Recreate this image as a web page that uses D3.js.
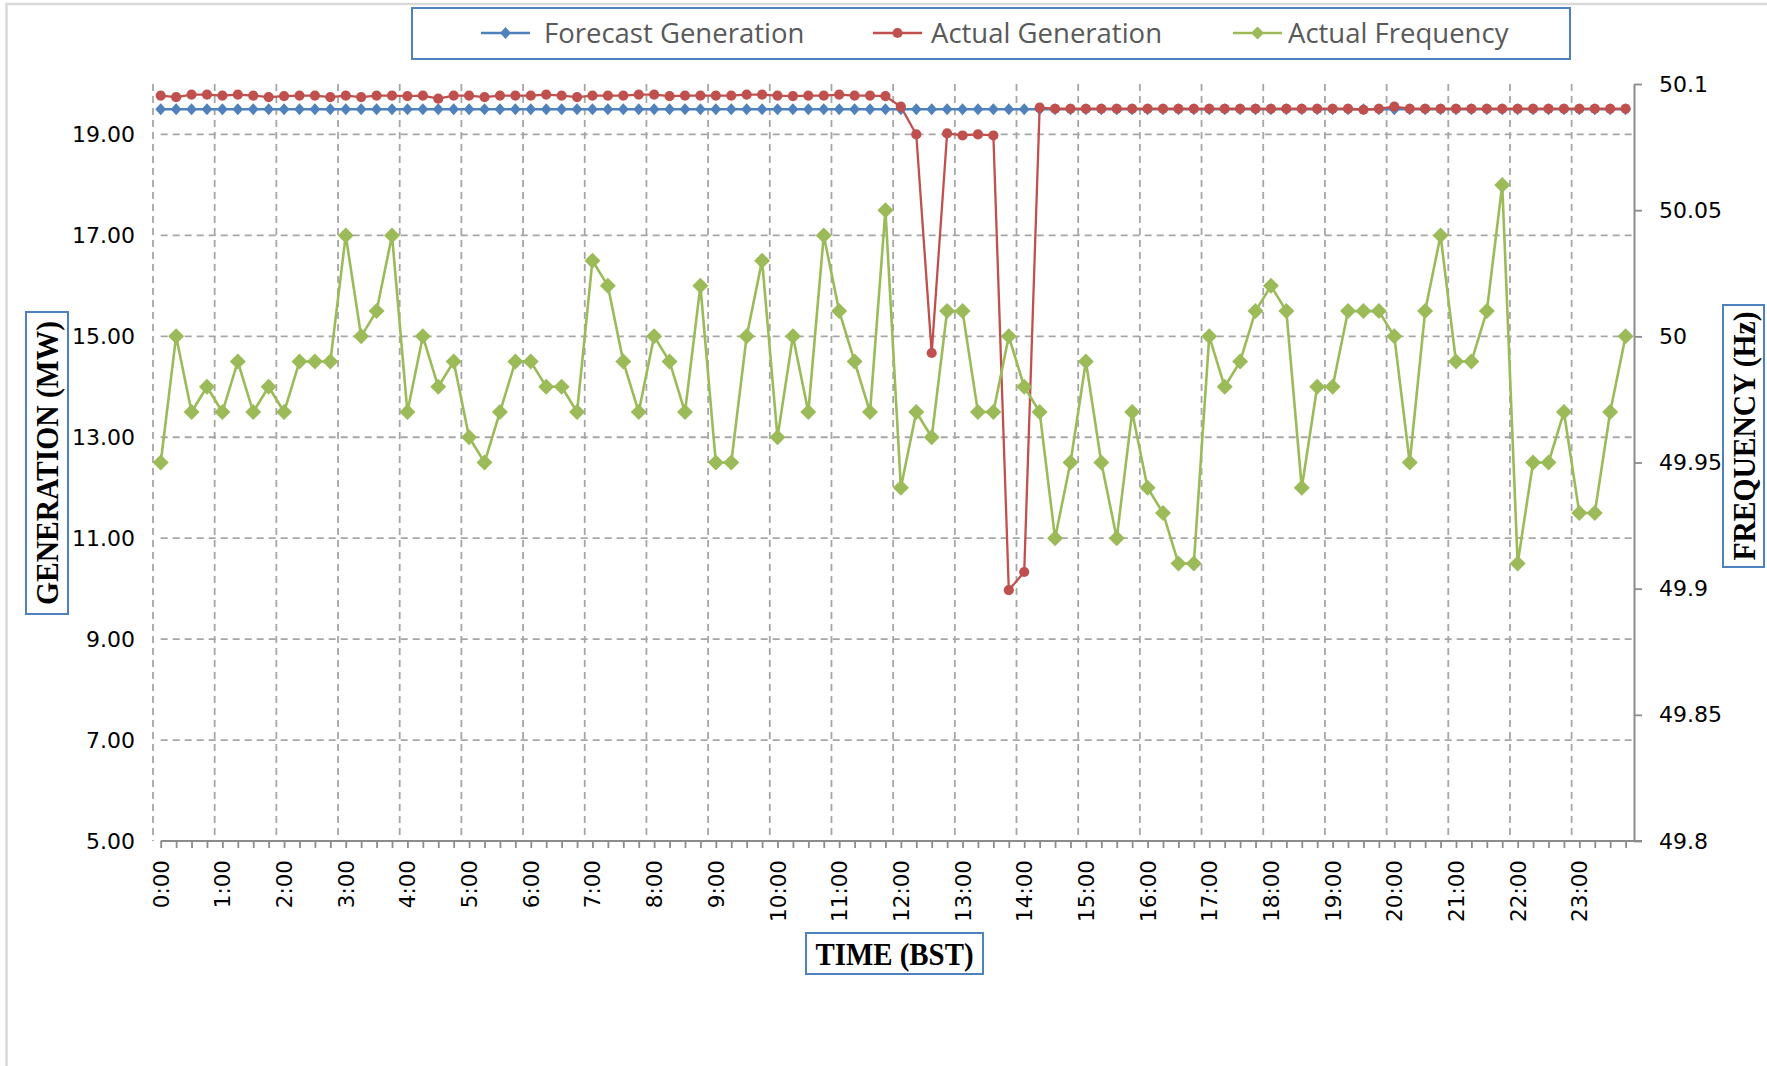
<!DOCTYPE html>
<html>
<head>
<meta charset="utf-8">
<script src="https://cdn.jsdelivr.net/npm/d3@7"></script>
<style>
  body { margin: 0; background: #fff; }
  svg { display: block; }
</style>
</head>
<body>
<script>
// 15-minute slots over the day
var times = [
  '0:00', '0:15', '0:30', '0:45', '1:00', '1:15', '1:30', '1:45',
  '2:00', '2:15', '2:30', '2:45', '3:00', '3:15', '3:30', '3:45',
  '4:00', '4:15', '4:30', '4:45', '5:00', '5:15', '5:30', '5:45',
  '6:00', '6:15', '6:30', '6:45', '7:00', '7:15', '7:30', '7:45',
  '8:00', '8:15', '8:30', '8:45', '9:00', '9:15', '9:30', '9:45',
  '10:00', '10:15', '10:30', '10:45', '11:00', '11:15', '11:30', '11:45',
  '12:00', '12:15', '12:30', '12:45', '13:00', '13:15', '13:30', '13:45',
  '14:00', '14:15', '14:30', '14:45', '15:00', '15:15', '15:30', '15:45',
  '16:00', '16:15', '16:30', '16:45', '17:00', '17:15', '17:30', '17:45',
  '18:00', '18:15', '18:30', '18:45', '19:00', '19:15', '19:30', '19:45',
  '20:00', '20:15', '20:30', '20:45', '21:00', '21:15', '21:30', '21:45',
  '22:00', '22:15', '22:30', '22:45', '23:00', '23:15', '23:30', '23:45'
]

var hourLabels = ['0:00', '1:00', '2:00', '3:00', '4:00', '5:00', '6:00', '7:00',
  '8:00', '9:00', '10:00', '11:00', '12:00', '13:00', '14:00', '15:00',
  '16:00', '17:00', '18:00', '19:00', '20:00', '21:00', '22:00', '23:00']

var genTicks = [5, 7, 9, 11, 13, 15, 17, 19]
var freqTicks = [49.8, 49.85, 49.9, 49.95, 50, 50.05, 50.1]

var forecastGen = [
  19.5, 19.5, 19.5, 19.5, 19.5, 19.5, 19.5, 19.5,
  19.5, 19.5, 19.5, 19.5, 19.5, 19.5, 19.5, 19.5,
  19.5, 19.5, 19.5, 19.5, 19.5, 19.5, 19.5, 19.5,
  19.5, 19.5, 19.5, 19.5, 19.5, 19.5, 19.5, 19.5,
  19.5, 19.5, 19.5, 19.5, 19.5, 19.5, 19.5, 19.5,
  19.5, 19.5, 19.5, 19.5, 19.5, 19.5, 19.5, 19.5,
  19.5, 19.5, 19.5, 19.5, 19.5, 19.5, 19.5, 19.5,
  19.5, 19.5, 19.5, 19.5, 19.5, 19.5, 19.5, 19.5,
  19.5, 19.5, 19.5, 19.5, 19.5, 19.5, 19.5, 19.5,
  19.5, 19.5, 19.5, 19.5, 19.5, 19.5, 19.5, 19.5,
  19.5, 19.5, 19.5, 19.5, 19.5, 19.5, 19.5, 19.5,
  19.5, 19.5, 19.5, 19.5, 19.5, 19.5, 19.5, 19.5
]

var actualGen = [
  19.77, 19.74, 19.79, 19.79, 19.77, 19.79, 19.77, 19.74,
  19.76, 19.77, 19.77, 19.74, 19.77, 19.74, 19.77, 19.77,
  19.76, 19.77, 19.71, 19.77, 19.77, 19.74, 19.77, 19.77,
  19.77, 19.79, 19.77, 19.74, 19.77, 19.77, 19.77, 19.79,
  19.79, 19.76, 19.77, 19.77, 19.77, 19.77, 19.79, 19.79,
  19.77, 19.76, 19.77, 19.77, 19.79, 19.77, 19.77, 19.76,
  19.55, 19.0, 14.67, 19.02, 18.98, 19.0, 18.98, 9.97,
  10.33, 19.53, 19.51, 19.51, 19.51, 19.51, 19.51, 19.51,
  19.51, 19.51, 19.51, 19.51, 19.51, 19.51, 19.51, 19.51,
  19.51, 19.51, 19.51, 19.51, 19.51, 19.51, 19.49, 19.51,
  19.55, 19.51, 19.51, 19.51, 19.51, 19.51, 19.51, 19.51,
  19.51, 19.51, 19.51, 19.51, 19.51, 19.51, 19.51, 19.51
]

var actualFreq = [
  49.95, 50.00, 49.97, 49.98, 49.97, 49.99, 49.97, 49.98,
  49.97, 49.99, 49.99, 49.99, 50.04, 50.00, 50.01, 50.04,
  49.97, 50.00, 49.98, 49.99, 49.96, 49.95, 49.97, 49.99,
  49.99, 49.98, 49.98, 49.97, 50.03, 50.02, 49.99, 49.97,
  50.00, 49.99, 49.97, 50.02, 49.95, 49.95, 50.00, 50.03,
  49.96, 50.00, 49.97, 50.04, 50.01, 49.99, 49.97, 50.05,
  49.94, 49.97, 49.96, 50.01, 50.01, 49.97, 49.97, 50.00,
  49.98, 49.97, 49.92, 49.95, 49.99, 49.95, 49.92, 49.97,
  49.94, 49.93, 49.91, 49.91, 50.00, 49.98, 49.99, 50.01,
  50.02, 50.01, 49.94, 49.98, 49.98, 50.01, 50.01, 50.01,
  50.00, 49.95, 50.01, 50.04, 49.99, 49.99, 50.01, 50.06,
  49.91, 49.95, 49.95, 49.97, 49.93, 49.93, 49.97, 50.00
]

var W = 1767, H = 1066
var plotRight = 1634, plotTop = 84, plotBottom = 841

var svg = d3.select('body').append('svg')
  .attr('width', W)
  .attr('height', H)

// chart area border (only top & left visible)
svg.append('rect')
  .attr('x', 6.5).attr('y', 4)
  .attr('width', W + 20).attr('height', H + 20)
  .attr('fill', 'none')
  .attr('stroke', '#d9d9d9')
  .attr('stroke-width', 2.5)

var x = d3.scalePoint()
  .domain(times)
  .range([160.7, 1625.6])

var half = x.step() / 2

var yGen = d3.scaleLinear()
  .domain([5, 20])
  .range([plotBottom, plotTop])

var yFreq = d3.scaleLinear()
  .domain([49.8, 50.1])
  .range([plotBottom, plotTop])

var tickFont = "'DejaVu Sans', Verdana, sans-serif"
var legendFont = "'Open Sans', 'Noto Sans', sans-serif"
var gridColor = '#a6a6a6'
var axisColor = '#8c8c8c'

// horizontal gridlines
svg.append('g')
  .selectAll('line')
  .data(genTicks.filter(function (d) { return d > 5 }))
  .join('line')
  .attr('x1', 160.7).attr('x2', plotRight)
  .attr('y1', function (d) { return yGen(d) })
  .attr('y2', function (d) { return yGen(d) })
  .attr('stroke', gridColor)
  .attr('stroke-width', 1.8)
  .attr('stroke-dasharray', '7,5')

// vertical gridlines, one per hour at the category edge
svg.append('g')
  .selectAll('line')
  .data(hourLabels)
  .join('line')
  .attr('x1', function (d) { return x(d) - half })
  .attr('x2', function (d) { return x(d) - half })
  .attr('y1', plotTop).attr('y2', plotBottom)
  .attr('stroke', gridColor)
  .attr('stroke-width', 1.8)
  .attr('stroke-dasharray', '7,5')

// x axis
var xAxis = d3.axisBottom(x)
  .tickSize(7)
  .tickFormat('')

var gx = svg.append('g')
  .attr('transform', 'translate(0,' + plotBottom + ')')
  .call(xAxis)
gx.select('.domain').remove()
gx.selectAll('.tick line').attr('stroke', axisColor).attr('stroke-width', 1.8)
gx.append('line')
  .attr('x1', 160.7).attr('x2', plotRight + 8)
  .attr('stroke', axisColor).attr('stroke-width', 2)

svg.append('g')
  .selectAll('text')
  .data(hourLabels)
  .join('text')
  .attr('transform', function (d) { return 'translate(' + (x(d) + 8) + ',' + (plotBottom + 19) + ') rotate(-90)' })
  .attr('text-anchor', 'end')
  .style('font-family', tickFont)
  .style('font-size', '21.5px')
  .attr('fill', '#000')
  .text(function (d) { return d })

// left axis (labels only)
var yAxisL = d3.axisLeft(yGen)
  .tickValues(genTicks)
  .tickSize(0)
  .tickPadding(0)
  .tickFormat(d3.format('.2f'))

var gl = svg.append('g')
  .attr('transform', 'translate(135,0)')
  .call(yAxisL)
gl.select('.domain').remove()
gl.selectAll('text')
  .style('font-family', tickFont)
  .style('font-size', '22px')
  .attr('fill', '#000')

// right axis
var yAxisR = d3.axisRight(yFreq)
  .tickValues(freqTicks)
  .tickSize(8)
  .tickPadding(17)
  .tickSizeOuter(0)
  .tickFormat(function (d) { return String(+d.toFixed(2)) })

var gr = svg.append('g')
  .attr('transform', 'translate(' + plotRight + ',0)')
  .call(yAxisR)
gr.select('.domain').attr('stroke', axisColor).attr('stroke-width', 2)
gr.selectAll('.tick line').attr('stroke', axisColor).attr('stroke-width', 1.8)
gr.selectAll('text')
  .style('font-family', tickFont)
  .style('font-size', '22px')
  .attr('fill', '#000')

// series
function diamond (w, h) {
  return 'M0,' + (-h) + 'L' + w + ',0L0,' + h + 'L' + (-w) + ',0Z'
}

var series = [
  { name: 'Forecast Generation', values: forecastGen, y: yGen, color: '#4f81bd', width: 2.3, marker: 'diamond', w: 5.4, h: 6 },
  { name: 'Actual Generation', values: actualGen, y: yGen, color: '#c0504d', width: 2.3, marker: 'circle', r: 5.1 },
  { name: 'Actual Frequency', values: actualFreq, y: yFreq, color: '#9bbb59', width: 2.6, marker: 'diamond', w: 8, h: 8 }
]

series.forEach(function (s) {
  var line = d3.line()
    .x(function (d, i) { return x(times[i]) })
    .y(function (d) { return s.y(d) })

  var g = svg.append('g')
  g.append('path')
    .datum(s.values)
    .attr('d', line)
    .attr('fill', 'none')
    .attr('stroke', s.color)
    .attr('stroke-width', s.width)
    .attr('stroke-linejoin', 'round')

  if (s.marker === 'circle') {
    g.selectAll('circle')
      .data(s.values)
      .join('circle')
      .attr('cx', function (d, i) { return x(times[i]) })
      .attr('cy', function (d) { return s.y(d) })
      .attr('r', s.r)
      .attr('fill', s.color)
  } else {
    g.selectAll('path.mk')
      .data(s.values)
      .join('path')
      .attr('class', 'mk')
      .attr('transform', function (d, i) { return 'translate(' + x(times[i]) + ',' + s.y(d) + ')' })
      .attr('d', diamond(s.w, s.h))
      .attr('fill', s.color)
  }
})

// legend
var legend = svg.append('g')
legend.append('rect')
  .attr('x', 412).attr('y', 8)
  .attr('width', 1158).attr('height', 51)
  .attr('fill', '#fff')
  .attr('stroke', '#4f81bd')
  .attr('stroke-width', 2)

var legendPos = [
  { x: 481, tx: 544 },
  { x: 873, tx: 931 },
  { x: 1233, tx: 1288 }
]

series.forEach(function (s, i) {
  var p = legendPos[i]
  var cy = 33
  legend.append('line')
    .attr('x1', p.x).attr('x2', p.x + 49)
    .attr('y1', cy).attr('y2', cy)
    .attr('stroke', s.color)
    .attr('stroke-width', s.width)
  if (s.marker === 'circle') {
    legend.append('circle')
      .attr('cx', p.x + 24.5).attr('cy', cy)
      .attr('r', s.r)
      .attr('fill', s.color)
  } else {
    legend.append('path')
      .attr('transform', 'translate(' + (p.x + 24.5) + ',' + cy + ')')
      .attr('d', i === 2 ? diamond(6.5, 6.5) : diamond(5.4, 6))
      .attr('fill', s.color)
  }
  legend.append('text')
    .attr('x', p.tx).attr('y', cy)
    .attr('dy', '0.35em')
    .style('font-family', legendFont)
    .style('font-size', '27.5px')
    .attr('fill', '#595959')
    .text(s.name)
})

// axis titles in boxes
var titleFont = "'Liberation Serif', 'Times New Roman', serif"

function boxedTitle (bx, by, bw, bh, text, len, rotate) {
  var g = svg.append('g')
  g.append('rect')
    .attr('x', bx).attr('y', by)
    .attr('width', bw).attr('height', bh)
    .attr('fill', '#fff')
    .attr('stroke', '#4f81bd')
    .attr('stroke-width', 2)
  var cx = bx + bw / 2, cy = by + bh / 2
  g.append('text')
    .attr('transform', 'translate(' + cx + ',' + cy + ')' + (rotate ? ' rotate(-90)' : ''))
    .attr('text-anchor', 'middle')
    .attr('dy', '0.35em')
    .attr('textLength', len)
    .attr('lengthAdjust', 'spacingAndGlyphs')
    .style('font-family', titleFont)
    .style('font-weight', 'bold')
    .style('font-size', '32px')
    .attr('fill', '#000')
    .text(text)
}

boxedTitle(26, 312, 42, 302, 'GENERATION (MW)', 284, true)
boxedTitle(1723, 305, 41, 262, 'FREQUENCY (Hz)', 249, true)
boxedTitle(806, 933, 177, 41, 'TIME (BST)', 158, false)
</script>
</body>
</html>
